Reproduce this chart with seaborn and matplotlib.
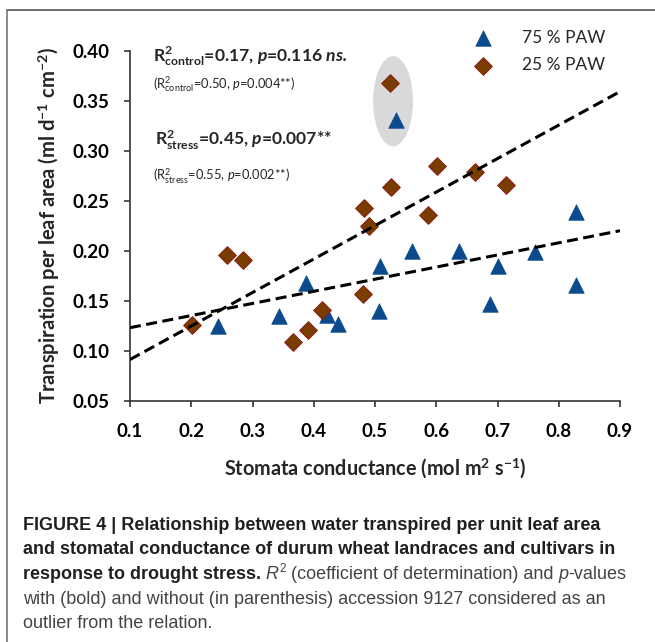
import numpy as np
import pandas as pd
import seaborn as sns
import matplotlib.pyplot as plt
from matplotlib.patches import Ellipse
from matplotlib.lines import Line2D

# 75 % PAW (control), last point = accession 9127 (outlier)
ctrl_x = [0.243, 0.344, 0.387, 0.421, 0.440, 0.507, 0.508, 0.560, 0.637, 0.688, 0.700, 0.762, 0.828, 0.828, 0.535]
ctrl_y = [0.125, 0.135, 0.168, 0.136, 0.127, 0.140, 0.185, 0.200, 0.200, 0.147, 0.185, 0.199, 0.239, 0.166, 0.331]
# 25 % PAW (stress), last point = accession 9127 (outlier)
strs_x = [0.202, 0.259, 0.284, 0.366, 0.391, 0.413, 0.481, 0.482, 0.490, 0.526, 0.587, 0.602, 0.664, 0.714, 0.524]
strs_y = [0.126, 0.196, 0.191, 0.109, 0.121, 0.141, 0.157, 0.243, 0.225, 0.264, 0.236, 0.285, 0.279, 0.266, 0.368]

x_ticks = [0.1, 0.2, 0.3, 0.4, 0.5, 0.6, 0.7, 0.8, 0.9]
y_ticks = [0.05, 0.10, 0.15, 0.20, 0.25, 0.30, 0.35, 0.40]

df = pd.DataFrame({
    'g': ctrl_x + strs_x,
    't': ctrl_y + strs_y,
    'trt': ['75 % PAW'] * len(ctrl_x) + ['25 % PAW'] * len(strs_x),
})
ctrl = df[df.trt == '75 % PAW']
strs = df[df.trt == '25 % PAW']

sns.set_style('ticks')
plt.rcParams['font.family'] = ['Lato', 'DejaVu Sans']
plt.rcParams['mathtext.fontset'] = 'custom'
plt.rcParams['mathtext.rm'] = 'Lato'
plt.rcParams['mathtext.it'] = 'Lato:italic'
plt.rcParams['mathtext.bf'] = 'Lato:bold'
plt.rcParams['mathtext.bfit'] = 'Lato:bold:italic'

W, H = 655, 642
fig = plt.figure(figsize=(W / 100, H / 100), dpi=100)
ax = fig.add_axes([130 / W, 1 - 401 / H, 490 / W, 350.3 / H])

BLUE = '#0b4a8c'
BROWN = '#7a3d00'

ax.set_xlim(0.1, 0.9)
ax.set_ylim(0.05, 0.40)

# grey ellipse around the outlier accession
ax.add_patch(Ellipse((np.mean([ctrl_x[-1], strs_x[-1]]), np.mean([ctrl_y[-1], strs_y[-1]])),
                     width=0.065, height=0.09, facecolor='#d9d9d9', edgecolor='none', zorder=1))

sns.scatterplot(data=ctrl, x='g', y='t', marker='^', s=125, color=BLUE, edgecolor=BLUE,
                linewidth=0.5, label='75 % PAW', ax=ax, zorder=2)
sns.scatterplot(data=strs, x='g', y='t', marker='D', s=80, color=BROWN, edgecolor='#8b2010',
                linewidth=0.8, label='25 % PAW', ax=ax, zorder=2)

# trend lines (with the outlier)
for d in (ctrl, strs):
    sns.regplot(data=d, x='g', y='t', scatter=False, ci=None, truncate=False, ax=ax,
                line_kws=dict(color='black', lw=2.2, ls=(0, (3.6, 1.8)), zorder=3))

ax.set_xlim(0.1, 0.9)
ax.set_ylim(0.05, 0.40)
ax.set_xticks(x_ticks)
ax.set_yticks(y_ticks)
ax.set_xticklabels([f'{v:.1f}' for v in x_ticks])
ax.set_yticklabels([f'{v:.2f}' for v in y_ticks])
for lab in ax.get_xticklabels() + ax.get_yticklabels():
    lab.set_fontweight('bold')
    lab.set_fontsize(13.5)
ax.tick_params(axis='x', length=4, width=1.2, pad=12, colors='#333333', labelcolor='black')
ax.tick_params(axis='y', length=4.5, width=1.2, pad=10, colors='#333333', labelcolor='black')
sns.despine(ax=ax)
for sp in ('left', 'bottom'):
    ax.spines[sp].set_color('#333333')
    ax.spines[sp].set_linewidth(1.2)

ax.set_xlabel(r'Stomata conductance (mol m$^{\mathbf{2}}$ s$^{\mathbf{-1}}$)',
              fontsize=14.3, fontweight='bold', labelpad=12)
ax.set_ylabel(r'Transpiration per leaf area (ml d$^{\mathbf{-1}}$ cm$^{\mathbf{-2}}$)',
              fontsize=14.5, fontweight='bold', labelpad=8)

ax.legend(loc='upper left', bbox_to_anchor=(466 / W, 1 - 30 / H), bbox_transform=fig.transFigure,
          frameon=False, fontsize=12.5, handletextpad=1.2, labelspacing=0.65,
          borderpad=0, borderaxespad=0)

# statistics text
def px(x, y):
    return x / W, 1 - y / H

fig.text(*px(153, 62), r'$\mathbf{R}^{\mathbf{2}}_{\mathbf{control}}$=0.17, $\mathbfit{p}$=0.116 $\mathbfit{ns.}$',
         fontsize=12.6, fontweight='bold', va='baseline')
fig.text(*px(153, 88), r'(R$^{2}_{\mathrm{control}}$=0.50, $\mathit{p}$=0.004**)',
         fontsize=9.3, va='baseline')
fig.text(*px(155, 145), r'$\mathbf{R}^{\mathbf{2}}_{\mathbf{stress}}$=0.45, $\mathbfit{p}$=0.007**',
         fontsize=12.6, fontweight='bold', va='baseline')
fig.text(*px(153, 180), r'(R$^{2}_{\mathrm{stress}}$=0.55, $\mathit{p}$=0.002**)',
         fontsize=9.3, va='baseline')

# frame lines of the figure panel
fig.add_artist(Line2D([7 / W, 1], [1 - 10 / H] * 2, transform=fig.transFigure, color='#555555', lw=1.2))
fig.add_artist(Line2D([7 / W] * 2, [0, 1 - 10 / H], transform=fig.transFigure, color='#777777', lw=1.2))

# caption
CAP = 'Liberation Sans'
CS = 13
BOLD = dict(family=CAP, fontsize=CS, fontweight='bold', color='#231f20')
REG = dict(family=CAP, fontsize=CS, color='#444444')
ITA = dict(family=CAP, fontsize=CS, style='italic', color='#444444')


def caption_line(pieces, x, y):
    base = fig.text(*px(x, y), pieces[0][0], va='baseline', ha='left', **pieces[0][1])
    prev = base
    for txt, kw, dy in pieces[1:]:
        prev = ax.annotate(txt, xy=(1, 0), xycoords=(prev, base), xytext=(0, dy),
                           textcoords='offset points', va='bottom', ha='left',
                           annotation_clip=False, **kw)


caption_line([('FIGURE 4 | Relationship between water transpired per unit leaf area', BOLD)], 23, 530)
caption_line([('and stomatal conductance of durum wheat landraces and cultivars in', BOLD)], 23, 554.5)
caption_line([('response to drought stress.', BOLD),
              (' R', ITA, 0),
              ('2', dict(REG, fontsize=CS * 0.65), 5.5),
              (' (coefficient of determination) and ', REG, 0),
              ('p', ITA, 0),
              ('-values', REG, 0)], 23, 579)
caption_line([('with (bold) and without (in parenthesis) accession 9127 considered as an', REG)], 23, 603.5)
caption_line([('outlier from the relation.', REG)], 23, 628)

fig.savefig('out.png', dpi=100)
